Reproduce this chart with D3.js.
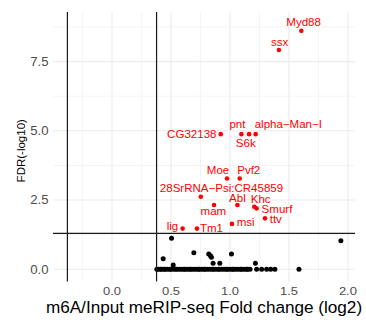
<!DOCTYPE html>
<html>
<head>
<meta charset="utf-8">
<script src="https://cdn.jsdelivr.net/npm/d3@7"></script>
<style>
  html, body { margin: 0; padding: 0; background: #fff; }
  svg { display: block; font-family: "Liberation Sans", Arial, Helvetica, sans-serif; }
</style>
</head>
<body>
<div id="chart"></div>
<script>
// 显著基因 (红色标注)
const sigGenes = ["Myd88", "ssx", "CG32138", "pnt", "S6k", "alpha-Man-I", "Moe", "Pvf2",
  "28SrRNA-Psi:CR45859", "mam", "Abl", "Khc", "Smurf", "ttv", "msi", "Tm1", "lig"];
const sigFC = [1.605, 1.415, 0.922, 1.097, 1.162, 1.218, 0.975, 1.083,
  0.753, 0.865, 1.063, 1.206, 1.226, 1.297, 1.017, 0.72, 0.599];
const sigFDR = [8.61, 7.92, 4.88, 4.88, 4.88, 4.88, 3.28, 3.28,
  2.62, 2.32, 2.32, 2.26, 2.20, 1.84, 1.64, 1.47, 1.47];

// 不显著基因 (黑色)
const bgFC = [0.505, 1.94, 0.434, 0.694, 0.820, 0.835, 0.843, 1.013, 0.519, 0.857, 0.914, 1.216, 1.585];
const bgFDR = [1.12, 1.03, 0.38, 0.60, 0.55, 0.49, 0.44, 0.55, 0.16, 0.22, 0.22, 0.22, 0];

// FDR = 0 的基因
const zeroFC = [0.38, 0.39, 0.41, 0.42, 0.44, 0.45, 0.47, 0.49, 0.50, 0.52, 0.54, 0.55, 0.57,
  0.59, 0.61, 0.62, 0.64, 0.66, 0.67, 0.69, 0.71, 0.73, 0.74, 0.76, 0.78, 0.79, 0.81, 0.83,
  0.85, 0.86, 0.88, 0.90, 0.91, 0.93, 0.95, 0.97, 0.98, 1.00, 1.02, 1.03, 1.05, 1.07, 1.09,
  1.10, 1.12, 1.14, 1.15, 1.17, 1.226, 1.269, 1.311, 1.345, 1.381];

// 阈值
const fcCut = [-0.378, 0.378];
const fdrCut = 1.301;

const xTicks = [0, 0.5, 1, 1.5, 2];
const yTicks = [0, 2.5, 5, 7.5];
const xMinor = [-0.25, 0.25, 0.75, 1.25, 1.75];
const yMinor = [1.25, 3.75, 6.25, 8.75];

// 标签偏移 [dx, dy, anchor]
const labelNudge = [
  [2.3, -4.5, "middle"], [0.7, -3.8, "middle"], [-4.3, 3.8, "end"], [-4, -6.5, "middle"],
  [-3.3, 13.3, "middle"], [-1, -6.5, "start"], [-9, -4.3, "middle"], [9, -4.3, "middle"],
  [20.7, -4.8, "middle"], [-0.7, 10, "middle"], [0, -2.8, "middle"], [6.4, -3.9, "middle"],
  [5, 4.6, "start"], [4.7, 4.8, "start"], [4.7, 2, "start"], [3, 3, "start"], [-4.4, 1.5, "end"]
];

const width = 366, height = 322;
const margin = { top: 12, right: 11, bottom: 40.5, left: 53 };

const svg = d3.select("#chart").append("svg")
  .attr("width", width)
  .attr("height", height);

const x = d3.scaleLinear().domain([-0.5, 2.06]).range([margin.left, width - margin.right]);
const y = d3.scaleLinear().domain([-0.44, 9.29]).range([height - margin.bottom, margin.top]);

// 网格
const grid = svg.append("g");
grid.selectAll(".xminor").data(xMinor).join("line")
  .attr("x1", d => x(d)).attr("x2", d => x(d))
  .attr("y1", y.range()[0]).attr("y2", y.range()[1])
  .attr("stroke", "#ededed").attr("stroke-width", 0.6);
grid.selectAll(".yminor").data(yMinor).join("line")
  .attr("x1", x.range()[0]).attr("x2", x.range()[1])
  .attr("y1", d => y(d)).attr("y2", d => y(d))
  .attr("stroke", "#ededed").attr("stroke-width", 0.6);
grid.selectAll(".xmajor").data(xTicks).join("line")
  .attr("x1", d => x(d)).attr("x2", d => x(d))
  .attr("y1", y.range()[0]).attr("y2", y.range()[1])
  .attr("stroke", "#ebebeb").attr("stroke-width", 1.1);
grid.selectAll(".ymajor").data(yTicks).join("line")
  .attr("x1", x.range()[0]).attr("x2", x.range()[1])
  .attr("y1", d => y(d)).attr("y2", d => y(d))
  .attr("stroke", "#ebebeb").attr("stroke-width", 1.1);

// 点
const bg = bgFC.map((v, i) => ({ fc: v, fdr: bgFDR[i] }))
  .concat(zeroFC.map(v => ({ fc: v, fdr: 0 })));
svg.append("g").selectAll("circle").data(bg).join("circle")
  .attr("cx", d => x(d.fc)).attr("cy", d => y(d.fdr))
  .attr("r", 2.5).attr("fill", "#000");

// 阈值线
svg.append("g").selectAll("line").data(fcCut).join("line")
  .attr("x1", d => x(d)).attr("x2", d => x(d))
  .attr("y1", y.range()[0]).attr("y2", y.range()[1])
  .attr("stroke", "#1a1a1a").attr("stroke-width", 1.2);
svg.append("line")
  .attr("x1", x.range()[0]).attr("x2", x.range()[1])
  .attr("y1", y(fdrCut)).attr("y2", y(fdrCut))
  .attr("stroke", "#1a1a1a").attr("stroke-width", 1.2);

const sig = sigGenes.map((g, i) => ({ gene: g, fc: sigFC[i], fdr: sigFDR[i], nudge: labelNudge[i] }));
svg.append("g").selectAll("circle").data(sig).join("circle")
  .attr("cx", d => x(d.fc)).attr("cy", d => y(d.fdr))
  .attr("r", 2.3).attr("fill", "#ff0000");

// 横向拉伸文字
const stretch = 1.1;
svg.append("g").selectAll("text").data(sig).join("text")
  .attr("transform", d => `translate(${x(d.fc) + d.nudge[0]},${y(d.fdr) + d.nudge[1]}) scale(${stretch},1)`)
  .attr("text-anchor", d => d.nudge[2])
  .attr("font-size", 10.5)
  .attr("fill", "#ff0000")
  .text(d => d.gene.replace(/-/g, "\u2212"));

// 坐标轴标签
svg.append("g").selectAll("text").data(xTicks).join("text")
  .attr("transform", d => `translate(${x(d)},${height - margin.bottom + 13.5}) scale(1.1,1)`)
  .attr("text-anchor", "middle")
  .attr("font-size", 11.8)
  .attr("fill", "#4d4d4d")
  .text(d => d3.format(".1f")(d));

svg.append("g").selectAll("text").data(yTicks).join("text")
  .attr("transform", d => `translate(${margin.left - 4.5},${y(d) + 4.3}) scale(1.08,1)`)
  .attr("text-anchor", "end")
  .attr("font-size", 12.2)
  .attr("fill", "#4d4d4d")
  .text(d => d3.format(".1f")(d));

svg.append("text")
  .attr("transform", `translate(${(x.range()[0] + x.range()[1]) / 2},${height - 9}) scale(1.1,1)`)
  .attr("text-anchor", "middle")
  .attr("font-size", 15.6)
  .attr("fill", "#000")
  .text("m6A/Input meRIP-seq Fold change (log2)");

svg.append("text")
  .attr("transform", `translate(25,${(y.range()[0] + y.range()[1]) / 2 + 4}) rotate(-90)`)
  .attr("text-anchor", "middle")
  .attr("font-size", 11.5)
  .attr("fill", "#000")
  .text("FDR(-log10)");
</script>
</body>
</html>
